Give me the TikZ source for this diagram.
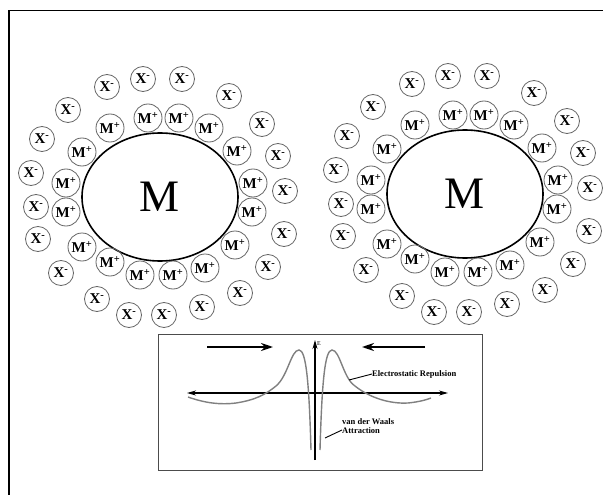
\documentclass[tikz,border=0pt]{standalone}
\usepackage{fontspec}
\setmainfont{Liberation Serif}
\usetikzlibrary{shapes.geometric,arrows.meta}

% one particle: a metal core M wrapped in a layer of M+ and an outer layer of X-
\newcommand\ioncloud[2]{%
  \begin{scope}[shift={#2}]
    \node[core] (#1core) at (160,197) {M};
    \foreach \p [count=\i] in {(110,128),(148,118),(179,118),(209,128),(82,152),(237,151),
        (66,183),(253,183),(66,212),(252,212),(82,247),(235,245),(110,262),(205,268),
        (140,275),(173,275)}
      \node[mion] (#1m\i) at \p {M\textsuperscript{+}};
    \foreach \p [count=\i] in {(107,87),(143,79),(182,79),(229,96),(68,110),(262,124),
        (42,139),(278,156),(31,173),(285,191),(36,207),(284,234),(38,239),(268,267),
        (61,273),(240,293),(97,299),(129,315),(164,315),(202,307)}
      \node[xion] (#1x\i) at \p {X\textsuperscript{-}};
  \end{scope}}

\begin{document}
\begin{tikzpicture}[x=1pt,y=-1pt,
  ion/.style={circle, draw=black!60, line width=0.8pt, inner sep=0pt,
    font=\fontsize{15}{15}\selectfont\bfseries},
  xion/.style={ion, minimum size=25pt},
  mion/.style={ion, minimum size=28pt},
  core/.style={ellipse, draw, line width=1.6pt, inner sep=0pt,
    minimum width=156pt, minimum height=128pt, font=\fontsize{45}{45}\selectfont},
  axis/.style={line width=1.1pt, -{Stealth[length=9pt,width=5pt]}},
  push/.style={line width=1.8pt, -{Stealth[length=12pt,width=8pt]}},
  energy/.style={draw=black!50, line width=1.4pt},
  note/.style={font=\fontsize{8.5}{9.5}\selectfont\bfseries, inner sep=0pt, anchor=west},
  leader/.style={line width=0.9pt}]
  \useasboundingbox (0,0) rectangle (603,495);
  \fill[white] (0,0) rectangle (603,495);

  % frame
  \draw[line width=1.5pt] (603,10.5) -- (9,10.5) -- (9,495);

  % the two particles
  \ioncloud{L}{(0,0)}
  \ioncloud{R}{(305,-3)}

  % interaction energy diagram
  \node[draw=black!70, line width=0.9pt, minimum width=324pt, minimum height=136pt,
    inner sep=0pt] (plot) at (320,402) {};
  \coordinate (yb) at (315,460);
  \coordinate (yt) at (315,340);
  \coordinate (xl) at (187,393);
  \coordinate (xr) at (448,393);
  \draw[axis] (yb) -- (yt);
  \draw[axis, {Stealth[length=9pt,width=5pt]}-{Stealth[length=9pt,width=5pt]}] (xl) -- (xr);
  \node[font=\fontsize{6}{6}\selectfont, anchor=west, inner sep=0pt] (elab) at (317,344) {E};

  \coordinate (pla) at (207,347);
  \coordinate (plb) at (273,347);
  \coordinate (pra) at (425,347);
  \coordinate (prb) at (362,347);
  \draw[push] (pla) -- (plb);
  \draw[push] (pra) -- (prb);

  % energy curve, one branch on each side of the axis
  \draw[energy] (188,397) .. controls (205,403) and (220,405) .. (236,403)
    .. controls (255,400) and (265,395) .. (276,386)
    .. controls (288,376) and (291,350) .. (299,350)
    .. controls (306,350) and (309,380) .. (311,450);
  \draw[energy] (320,450) .. controls (322,380) and (325,350) .. (332,350)
    .. controls (340,350) and (343,378) .. (355,386)
    .. controls (370,398) and (390,404) .. (408,403)
    .. controls (418,402) and (426,400) .. (431,398);

  \node[note] (rep) at (372,374) {Electrostatic Repulsion};
  \node[note, align=left] (vdw) at (342,426) {van der Waals\\Attraction};
  \coordinate (repc) at (349,380);
  \coordinate (vdwc) at (325,438);
  \draw[leader] (repc) -- (rep.west);
  \draw[leader] (vdwc) -- ([yshift=-4pt]vdw.west);
\end{tikzpicture}
\end{document}
